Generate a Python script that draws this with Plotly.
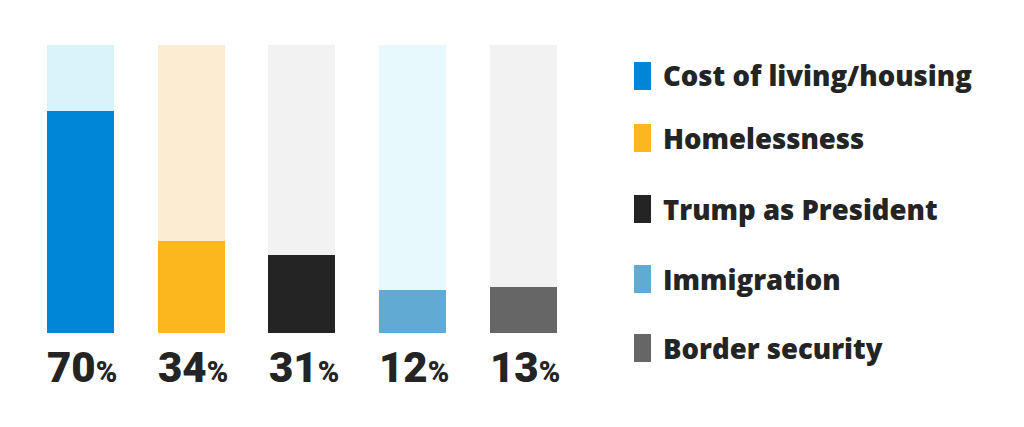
import plotly.graph_objects as go

# Share naming each issue (labels printed under the bars)
issues = ["Cost of living/housing", "Homelessness", "Trump as President",
          "Immigration", "Border security"]
shares = [70, 34, 31, 12, 13]
# Filled height of each bar as drawn in the graphic (it is not drawn to scale)
bar_fill = [77, 32, 27, 15, 16]
track = [100, 100, 100, 100, 100]

fill_colors = ["#0086D6", "#FDB71E", "#242424", "#5FABD3", "#666666"]
track_colors = ["#D8F4FA", "#FCEDD2", "#F2F2F2", "#E8F9FD", "#F2F2F2"]

W, H = 1024, 427
OFF = 8  # page body margin, figure sits 8px in from the window corner
BAR_W = 0.605
TEXT = "#242424"


def px_x(p):
    return (p - OFF) / W


def px_y(p):
    return 1 - (p - OFF) / H


fig = go.Figure()
fig.add_trace(go.Bar(x=list(range(len(issues))), y=track, width=BAR_W,
                     marker=dict(color=track_colors, line_width=0),
                     hoverinfo="skip", showlegend=False))
fig.add_trace(go.Bar(x=list(range(len(issues))), y=bar_fill, width=BAR_W,
                     marker=dict(color=fill_colors, line_width=0),
                     customdata=issues, hovertemplate="%{customdata}<extra></extra>",
                     showlegend=False))

# percentage labels under each bar, left-aligned with the bar
for i, s in enumerate(shares):
    fig.add_annotation(x=i - BAR_W / 2, y=0, xref="x", yref="y",
                       xanchor="left", yanchor="top", yshift=-8, xshift=-2,
                       text=f"{s}<span style='font-size:29px'>%</span>",
                       showarrow=False,
                       font=dict(family="Roboto", size=42, color=TEXT, weight=900))

# legend drawn by hand: tall swatch + bold label
legend_rows_px = [76, 138, 209, 279, 348]
for name, col, py in zip(issues, fill_colors, legend_rows_px):
    fig.add_shape(type="rect", xref="paper", yref="paper",
                  x0=px_x(634), x1=px_x(651), y0=px_y(py - 14), y1=px_y(py + 14),
                  fillcolor=col, line_width=0)
    fig.add_annotation(x=px_x(661), y=px_y(py), xref="paper", yref="paper",
                       xanchor="left", yanchor="middle", text=name, showarrow=False,
                       font=dict(family="Open Sans", size=27.5, color=TEXT, weight=800))

fig.update_layout(
    width=W, height=H,
    margin=dict(l=0, r=0, t=0, b=0),
    barmode="overlay", bargap=0,
    paper_bgcolor="white", plot_bgcolor="white",
    xaxis=dict(domain=[px_x(25.1), px_x(578.9)], range=[-0.5, 4.5], visible=False, fixedrange=True),
    yaxis=dict(domain=[px_y(333), px_y(45)], range=[0, 100], visible=False, fixedrange=True),
    showlegend=False,
)

fig.write_html("out.html")
